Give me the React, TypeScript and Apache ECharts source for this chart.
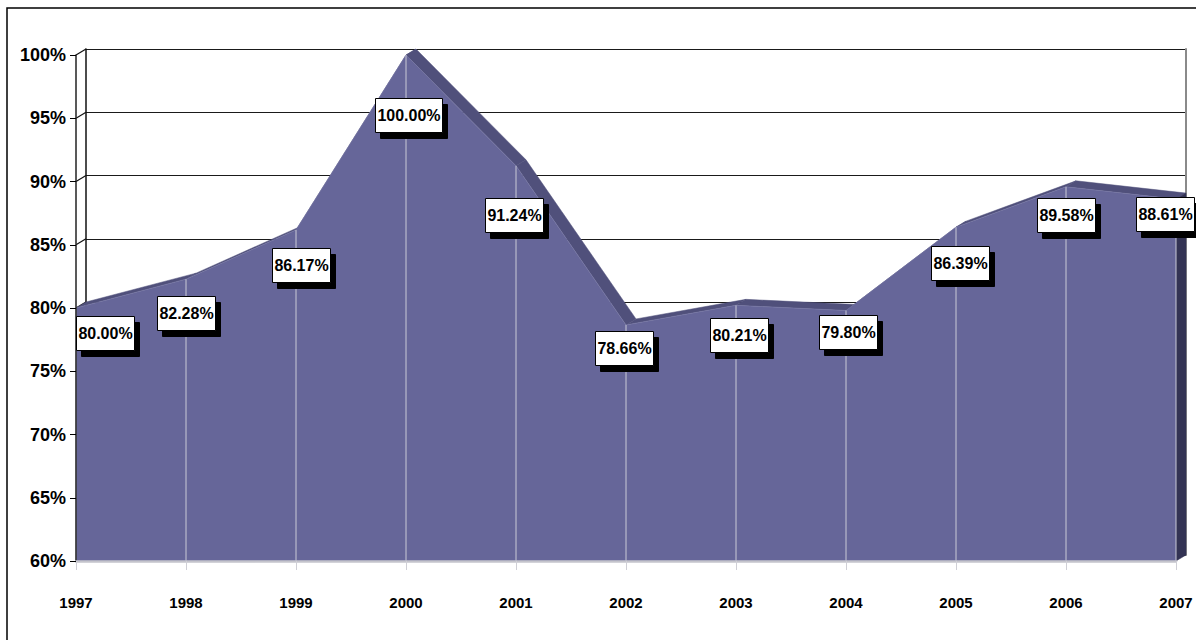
import React, { useEffect, useRef } from "react";
import * as echarts from "echarts";

// Yearly share, in percent
const YEARS = ["1997", "1998", "1999", "2000", "2001", "2002", "2003", "2004", "2005", "2006", "2007"];
const SHARE = [80.0, 82.28, 86.17, 100.0, 91.24, 78.66, 80.21, 79.8, 86.39, 89.58, 88.61];
const Y_TICKS = [60, 65, 70, 75, 80, 85, 90, 95, 100];
const Y_MIN = 60;
const Y_MAX = 100;
const Y_STEP = 5;

// Pixel shift of each value box centre from its point
const LABEL_SHIFT: [number, number][] = [
  [29, 25], [0, 34], [5, 35], [2, 60], [-2, 49], [-2, 23],
  [3, 30], [2, 21], [4, 36], [0, 28], [-11, 15],
];
const SHADOW_SHIFT: [number, number] = [5, 6];

// 3D depth of the area ribbon and the walls
const DEPTH: [number, number] = [10, -6];

const FONT = "'Liberation Sans', Arial, Helvetica, sans-serif";
const LABEL_FONT = "bold 16px " + FONT;
const FACE = "#666699";
const TOP_FACE = "#50507b";
const SIDE_FACE = "#333354";

let measureCtx: CanvasRenderingContext2D | null = null;
function textWidth(s: string): number {
  if (!measureCtx) measureCtx = document.createElement("canvas").getContext("2d");
  if (!measureCtx) return s.length * 8;
  measureCtx.font = LABEL_FONT;
  return measureCtx.measureText(s).width;
}

export default function App() {
  const ref = useRef<HTMLDivElement>(null);

  useEffect(() => {
    if (!ref.current) return;
    const chart = echarts.init(ref.current, null, { renderer: "svg" });
    const n = SHARE.length;
    const shift = (p: number[]) => [p[0] + DEPTH[0], p[1] + DEPTH[1]];

    chart.setOption({
      animation: false,
      backgroundColor: "#ffffff",
      textStyle: { fontFamily: FONT },
      graphic: [
        {
          type: "rect",
          shape: { x: 7, y: 8, width: 1400, height: 800 },
          style: { fill: "none", stroke: "#000", lineWidth: 1.5 },
          z: 100,
          silent: true,
        },
      ],
      grid: [
        { left: 76, right: 20, top: 55, bottom: 79 },
        { left: 86, right: 10, top: 49, bottom: 85 },
      ],
      xAxis: [
        {
          gridIndex: 0,
          type: "category",
          data: YEARS,
          boundaryGap: false,
          z: 3,
          axisLine: { show: true, lineStyle: { color: "#c4c4cc", width: 2.5 } },
          axisTick: { show: true, length: 9, lineStyle: { color: "#cfcfd6", width: 1 } },
          axisLabel: {
            interval: 0,
            margin: 34,
            fontSize: 15,
            fontWeight: "bold",
            color: "#000",
            fontFamily: FONT,
          },
          splitLine: { show: false },
        },
        {
          gridIndex: 1,
          type: "category",
          data: YEARS,
          boundaryGap: false,
          show: false,
        },
      ],
      yAxis: [
        {
          gridIndex: 0,
          type: "value",
          min: Y_MIN,
          max: Y_MAX,
          interval: Y_STEP,
          z: 3,
          axisLine: { show: true, lineStyle: { color: "#222", width: 1.5 } },
          axisTick: { show: true, length: 6, lineStyle: { color: "#000", width: 1 } },
          axisLabel: {
            formatter: "{value}%",
            margin: 10,
            fontSize: 18,
            fontWeight: "bold",
            color: "#000",
            fontFamily: FONT,
          },
          splitLine: { show: false },
        },
        {
          gridIndex: 1,
          type: "value",
          min: Y_MIN,
          max: Y_MAX,
          interval: Y_STEP,
          position: "left",
          axisLine: { show: true, lineStyle: { color: "#111", width: 1.5 } },
          axisTick: { show: false },
          axisLabel: { show: false },
          splitLine: { show: true, lineStyle: { color: "#1a1a1a", width: 1.2 } },
        },
        {
          gridIndex: 1,
          type: "value",
          min: Y_MIN,
          max: Y_MAX,
          interval: Y_STEP,
          position: "right",
          axisLine: { show: true, lineStyle: { color: "#8a8a8a", width: 2 } },
          axisTick: { show: false },
          axisLabel: { show: false },
          splitLine: { show: false },
        },
      ],
      series: [
        // side-wall connectors from the front ticks to the back wall
        {
          type: "custom",
          xAxisIndex: 0,
          yAxisIndex: 0,
          z: 1,
          clip: false,
          silent: true,
          data: Y_TICKS.map((v) => [0, v]),
          renderItem: (_params: any, api: any) => {
            const p = api.coord([0, api.value(1)]);
            const q = shift(p);
            return {
              type: "line",
              shape: { x1: p[0], y1: p[1], x2: q[0], y2: q[1] },
              style: { stroke: "#111", lineWidth: 1.2 },
            };
          },
        },
        // top ribbon of the area and its right-hand side face
        {
          type: "custom",
          xAxisIndex: 0,
          yAxisIndex: 0,
          z: 1.5,
          clip: false,
          silent: true,
          data: SHARE.map((v, i) => [i, v]),
          renderItem: (params: any, api: any) => {
            const i = params.dataIndex;
            const p0 = api.coord([i, api.value(1)]);
            if (i < n - 1) {
              const p1 = api.coord([i + 1, SHARE[i + 1]]);
              return {
                type: "polygon",
                shape: { points: [p0, p1, shift(p1), shift(p0)] },
                style: { fill: TOP_FACE, stroke: TOP_FACE, lineWidth: 0.5 },
              };
            }
            const b = api.coord([i, Y_MIN]);
            return {
              type: "polygon",
              shape: { points: [p0, shift(p0), shift(b), b] },
              style: { fill: SIDE_FACE, stroke: SIDE_FACE, lineWidth: 0.5 },
            };
          },
        },
        // front face of the area
        {
          type: "line",
          xAxisIndex: 0,
          yAxisIndex: 0,
          z: 2,
          data: SHARE,
          symbol: "none",
          lineStyle: { width: 0.6, color: "#7a7aa8" },
          areaStyle: { color: FACE, opacity: 1, origin: "start" },
          silent: true,
        },
        // light drop lines at each year
        {
          type: "custom",
          xAxisIndex: 0,
          yAxisIndex: 0,
          z: 3,
          clip: false,
          silent: true,
          data: SHARE.map((v, i) => [i, v]),
          renderItem: (params: any, api: any) => {
            const i = params.dataIndex;
            const p = api.coord([i, api.value(1)]);
            const b = api.coord([i, Y_MIN]);
            return {
              type: "line",
              shape: { x1: p[0], y1: p[1], x2: b[0], y2: b[1] },
              style: { stroke: "#c9c9d6", lineWidth: 1 },
            };
          },
        },
        // value boxes with a solid drop shadow
        {
          type: "custom",
          xAxisIndex: 0,
          yAxisIndex: 0,
          z: 6,
          clip: false,
          silent: true,
          data: SHARE.map((v, i) => [i, v]),
          renderItem: (params: any, api: any) => {
            const i = params.dataIndex;
            const v = api.value(1);
            const text = v.toFixed(2) + "%";
            const p = api.coord([i, v]);
            const cx = p[0] + LABEL_SHIFT[i][0];
            const cy = p[1] + LABEL_SHIFT[i][1];
            const w = Math.round(textWidth(text)) + 4;
            const h = 34;
            const x = Math.round(cx - w / 2) + 0.5;
            const y = Math.round(cy - h / 2) + 0.5;
            return {
              type: "group",
              children: [
                {
                  type: "rect",
                  shape: { x: x + SHADOW_SHIFT[0], y: y + SHADOW_SHIFT[1], width: w, height: h },
                  style: { fill: "#000", stroke: "#000", lineWidth: 1 },
                },
                {
                  type: "rect",
                  shape: { x, y, width: w, height: h },
                  style: { fill: "#fff", stroke: "#000", lineWidth: 1 },
                },
                {
                  type: "text",
                  x: x + w / 2,
                  y: y + h / 2,
                  style: {
                    text,
                    font: LABEL_FONT,
                    fill: "#000",
                    align: "center",
                    verticalAlign: "middle",
                  },
                },
              ],
            };
          },
        },
      ],
    });

    return () => chart.dispose();
  }, []);

  return (
    <div
      ref={ref}
      style={{ position: "fixed", left: 0, top: 0, width: 1196, height: 640, background: "#fff" }}
    />
  );
}
